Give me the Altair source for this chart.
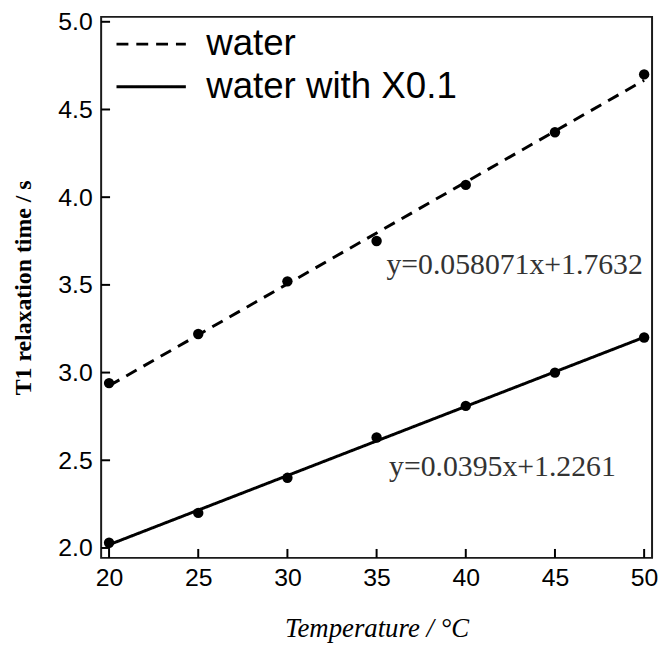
import altair as alt
import pandas as pd

# ---- data ----
temps = [20, 25, 30, 35, 40, 45, 50]
water = [2.94, 3.22, 3.52, 3.75, 4.07, 4.37, 4.70]
water_x01 = [2.03, 2.20, 2.40, 2.63, 2.81, 3.00, 3.20]
series_names = ["water", "water with X0.1"]
x_ticks = [20, 25, 30, 35, 40, 45, 50]
y_ticks = [2.0, 2.5, 3.0, 3.5, 4.0, 4.5, 5.0]
eq_texts = ["y=0.058071x+1.7632", "y=0.0395x+1.2261"]
eq_x = [35.55, 35.7]
eq_y = [3.615, 2.46]

W, H = 556, 546
SANS = "Liberation Sans, Arial, sans-serif"
SERIF = "Liberation Serif, Times New Roman, serif"

df = pd.DataFrame({
    "T": temps * 2,
    "T1": water + water_x01,
    "series": [series_names[0]] * len(temps) + [series_names[1]] * len(temps),
})
xtick_df = pd.DataFrame({"T": x_ticks})
ytick_df = pd.DataFrame({"T1": y_ticks})
eq_df = pd.DataFrame({"T": eq_x, "T1": eq_y, "label": eq_texts})

xscale = alt.Scale(domain=[19.556, 50.444], nice=False, zero=False)
yscale = alt.Scale(domain=[1.9435, 5.028], nice=False, zero=False)

x_axis = alt.Axis(
    values=x_ticks, format="d", title="Temperature / °C", ticks=False, domain=False,
    grid=False, labelFont=SANS, labelFontSize=25, labelColor="black",
    labelPadding=8, titleFont=SERIF, titleFontStyle="italic", titleFontWeight="normal",
    titleFontSize=27, titleColor="black", titlePadding=25,
)
y_axis = alt.Axis(
    values=y_ticks, format=".1f", title="T1 relaxation time / s", ticks=False,
    domain=False, grid=False, labelFont=SANS, labelFontSize=25,
    labelColor="black", labelPadding=9, titleFont=SERIF, titleFontWeight="bold",
    titleFontSize=24, titleColor="black", titlePadding=23,
)

X = alt.X("T:Q", scale=xscale, axis=x_axis)
Y = alt.Y("T1:Q", scale=yscale, axis=y_axis)

lines = alt.Chart(df).transform_regression(
    "T", "T1", groupby=["series"], extent=[20, 50]
).mark_line(color="black", strokeWidth=3).encode(
    x=X, y=Y,
    strokeDash=alt.StrokeDash(
        "series:N",
        scale=alt.Scale(domain=series_names, range=[[12, 8], [1, 0]]),
        legend=alt.Legend(
            title=None, orient="none", legendX=32, legendY=9,
            symbolType="M-2.5,0H2.5", symbolSize=784, symbolStrokeWidth=3,
            symbolStrokeColor="black", labelFont=SANS, labelFontSize=37,
            labelColor="black", labelOffset=37, labelLimit=500, rowPadding=5,
            padding=0,
        ),
    ),
)

points = alt.Chart(df).mark_circle(size=110, color="black", opacity=1).encode(x=X, y=Y)

xticks = alt.Chart(xtick_df).mark_rule(color="black", strokeWidth=2).encode(
    x=X, y=alt.value(H), y2=alt.value(H - 9),
)
yticks = alt.Chart(ytick_df).mark_rule(color="black", strokeWidth=2).encode(
    y=Y, x=alt.value(0), x2=alt.value(9),
)

eqs = alt.Chart(eq_df).mark_text(
    align="left", baseline="middle", font=SERIF, fontSize=30, color="#333333"
).encode(x=X, y=Y, text="label:N")

chart = alt.layer(lines, points, xticks, yticks, eqs).properties(
    width=W, height=H,
    autosize=alt.AutoSizeParams(type="none"),
    padding={"left": 94, "top": 6, "right": 6, "bottom": 89},
).configure_view(stroke="#1a1a1a", strokeWidth=2)

chart.save("out.html", embed_options={"renderer": "svg", "actions": False})
